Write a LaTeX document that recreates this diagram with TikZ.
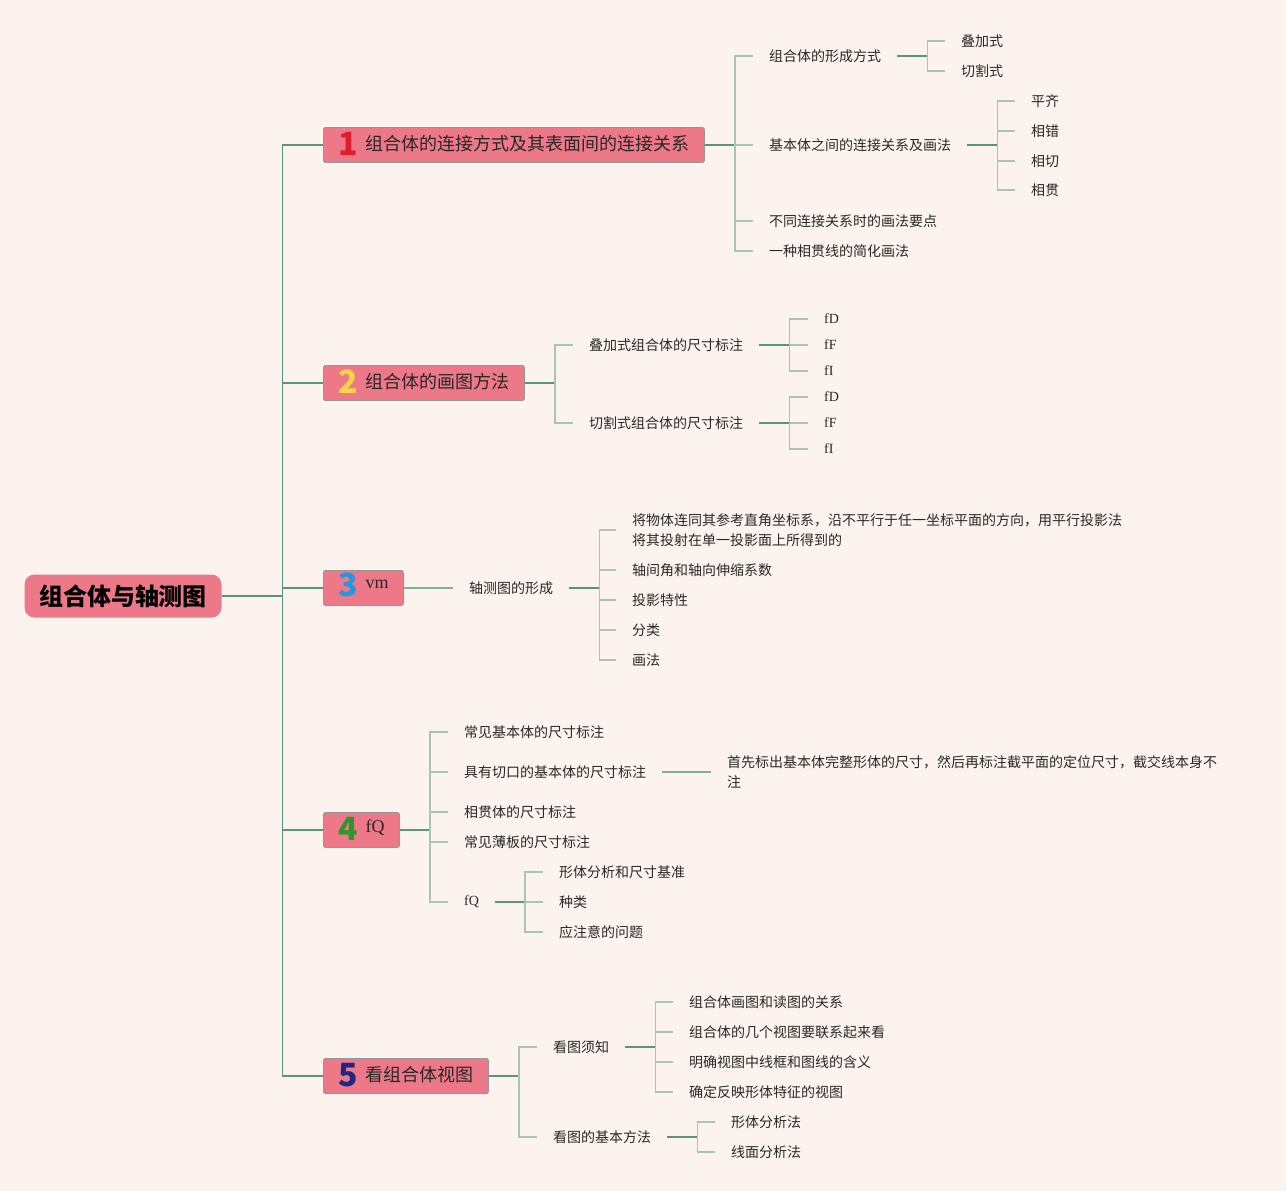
\documentclass[tikz,border=0pt]{standalone}
\usepackage{fontspec}
\newfontfamily\cjk{Noto Sans CJK SC}
\newfontfamily\lat{Liberation Serif}
\definecolor{BgCream}  {RGB}{253,243,238}
\definecolor{BoxPink}  {RGB}{236,120,136}
\definecolor{BoxEdge}  {RGB}{150,150,150}
\definecolor{LineDark} {RGB}{ 92,146,128}
\definecolor{LineMid}  {RGB}{130,172,156}
\definecolor{LineLight}{RGB}{168,196,178}
\definecolor{TextDark} {RGB}{ 40, 40, 40}
\definecolor{NumRed}   {RGB}{222, 30, 45}
\definecolor{NumYellow}{RGB}{250,212, 70}
\definecolor{NumBlue}  {RGB}{ 40,150,220}
\definecolor{NumGreen} {RGB}{ 45,150, 45}
\definecolor{NumNavy}  {RGB}{ 30, 40,130}
\newcommand{\numtag}[2]{\raisebox{-5pt}{\smash{\bfseries\fontsize{32}{32}\selectfont\color{#1}#2}}\hspace{8pt}}
\newcommand{\lattag}[1]{\raisebox{3pt}{\lat #1}}
\tikzset{
  %% 中心主题
  rootbox/.style={rectangle,rounded corners=10pt,fill=BoxPink,
                  minimum width=197pt,minimum height=43pt,inner sep=0pt,
                  font=\cjk\bfseries\fontsize{24}{28}\selectfont,text=black},
  %% 一级分支方框
  topbox/.style={rectangle,rounded corners=1.5pt,
                 draw=BoxEdge,line width=0.8pt,fill=BoxPink,
                 minimum height=35pt,inner xsep=0pt,inner ysep=0pt,anchor=west,
                 font=\cjk\fontsize{18}{22}\selectfont,text=TextDark},
  %% 子主题文字
  leaf/.style={anchor=west,inner xsep=16pt,inner ysep=2pt,align=left,
               font=\cjk\fontsize{14}{20}\selectfont,text=TextDark},
  latleaf/.style={leaf,font=\lat\fontsize{14}{20}\selectfont},
  %% 连线
  trunk/.style={LineDark,line width=1.3pt},
  lnkD/.style={LineDark,line width=1.4pt},
  lnkM/.style={LineMid,line width=1.3pt},
  lnkL/.style={LineLight,line width=1.4pt},
}
\begin{document}
\begin{tikzpicture}[x=1pt,y=-1pt]
    \fill[BgCream] (0,0) rectangle (1286,1191);
    \useasboundingbox (0,0) rectangle (1286,1191);

    %% ── 中心主题与一级分支 ──────────────────────────────
    \node[rootbox] (r) at (123,596) {组合体与轴测图};
    \node[topbox,minimum width=381pt] (n1) at (323,145)
      {\numtag{NumRed}{1}组合体的连接方式及其表面间的连接关系};
    \node[topbox,minimum width=201pt] (n2) at (323,383)
      {\numtag{NumYellow}{2}组合体的画图方法};
    \node[topbox,minimum width=80pt] (n3) at (323,588)
      {\numtag{NumBlue}{3}\lattag{vm}};
    \node[topbox,minimum width=76pt] (n4) at (323,830)
      {\numtag{NumGreen}{4}\lattag{fQ}};
    \node[topbox,minimum width=165pt] (n5) at (323,1076)
      {\numtag{NumNavy}{5}看组合体视图};

    \draw[trunk] (r.east) -- ++(61,0) coordinate (j0);
    \foreach \b in {n1,n2,n3,n4,n5}
      \draw[trunk] (j0) |- (\b.west);

    %% ── 1：连接方式 ────────────────────────────────────
    \node[leaf] (n11) at (753,56)  {组合体的形成方式};
    \node[leaf] (n12) at (753,145) {基本体之间的连接关系及画法};
    \node[leaf] (n13) at (753,221) {不同连接关系时的画法要点};
    \node[leaf] (n14) at (753,251) {一种相贯线的简化画法};
    \node[leaf] (n111) at (945,41) {叠加式};
    \node[leaf] (n112) at (945,71) {切割式};
    \node[leaf] (n121) at (1015,101) {平齐};
    \node[leaf] (n122) at (1015,131) {相错};
    \node[leaf] (n123) at (1015,161) {相切};
    \node[leaf] (n124) at (1015,190) {相贯};

    \draw[lnkD] (n1.east) -- ++(30,0) coordinate (j1);
    \foreach \c in {n11,n12,n13,n14} \draw[lnkL] (j1) |- (\c.west);
    \draw[lnkD] (n11.east) -- ++(30,0) coordinate (j11);
    \foreach \c in {n111,n112} \draw[lnkL] (j11) |- (\c.west);
    \draw[lnkD] (n12.east) -- ++(30,0) coordinate (j12);
    \foreach \c in {n121,n122,n123,n124} \draw[lnkL] (j12) |- (\c.west);

    %% ── 2：画图方法 ────────────────────────────────────
    \node[leaf] (n21) at (573,345) {叠加式组合体的尺寸标注};
    \node[leaf] (n22) at (573,423) {切割式组合体的尺寸标注};
    \node[latleaf] (n211) at (808,319) {fD};
    \node[latleaf] (n212) at (808,345) {fF};
    \node[latleaf] (n213) at (808,371) {fI};
    \node[latleaf] (n221) at (808,397) {fD};
    \node[latleaf] (n222) at (808,423) {fF};
    \node[latleaf] (n223) at (808,449) {fI};

    \draw[lnkD] (n2.east) -- ++(30,0) coordinate (j2);
    \foreach \c in {n21,n22} \draw[lnkL] (j2) |- (\c.west);
    \draw[lnkD] (n21.east) -- ++(30,0) coordinate (j21);
    \foreach \c in {n211,n212,n213} \draw[lnkL] (j21) |- (\c.west);
    \draw[lnkD] (n22.east) -- ++(30,0) coordinate (j22);
    \foreach \c in {n221,n222,n223} \draw[lnkL] (j22) |- (\c.west);

    %% ── 3：轴测图 ──────────────────────────────────────
    \node[leaf] (n31) at (453,588) {轴测图的形成};
    \node[leaf] (n311) at (616,530)
      {将物体连同其参考直角坐标系，沿不平行于任一坐标平面的方向，用平行投影法\\
       将其投射在单一投影面上所得到的};
    \node[leaf] (n312) at (616,570) {轴间角和轴向伸缩系数};
    \node[leaf] (n313) at (616,600) {投影特性};
    \node[leaf] (n314) at (616,630) {分类};
    \node[leaf] (n315) at (616,660) {画法};

    \draw[lnkM] (n3.east) -- (n31.west);
    \draw[lnkD] (n31.east) -- ++(30,0) coordinate (j31);
    \foreach \c in {n311,n312,n313,n314,n315} \draw[lnkL] (j31) |- (\c.west);

    %% ── 4：尺寸标注 ────────────────────────────────────
    \node[leaf] (n41) at (448,732) {常见基本体的尺寸标注};
    \node[leaf] (n42) at (448,772) {具有切口的基本体的尺寸标注};
    \node[leaf] (n43) at (448,812) {相贯体的尺寸标注};
    \node[leaf] (n44) at (448,842) {常见薄板的尺寸标注};
    \node[latleaf] (n45) at (448,902) {fQ};
    \node[leaf] (n421) at (711,772)
      {首先标出基本体完整形体的尺寸，然后再标注截平面的定位尺寸，截交线本身不\\注};
    \node[leaf] (n451) at (543,872) {形体分析和尺寸基准};
    \node[leaf] (n452) at (543,902) {种类};
    \node[leaf] (n453) at (543,932) {应注意的问题};

    \draw[lnkD] (n4.east) -- ++(30,0) coordinate (j4);
    \foreach \c in {n41,n42,n43,n44,n45} \draw[lnkL] (j4) |- (\c.west);
    \draw[lnkM] (n42.east) -- (n421.west);
    \draw[lnkD] (n45.east) -- ++(30,0) coordinate (j45);
    \foreach \c in {n451,n452,n453} \draw[lnkL] (j45) |- (\c.west);

    %% ── 5：看组合体视图 ────────────────────────────────
    \node[leaf] (n51) at (537,1047) {看图须知};
    \node[leaf] (n52) at (537,1137) {看图的基本方法};
    \node[leaf] (n511) at (673,1002) {组合体画图和读图的关系};
    \node[leaf] (n512) at (673,1032) {组合体的几个视图要联系起来看};
    \node[leaf] (n513) at (673,1062) {明确视图中线框和图线的含义};
    \node[leaf] (n514) at (673,1092) {确定反映形体特征的视图};
    \node[leaf] (n521) at (715,1122) {形体分析法};
    \node[leaf] (n522) at (715,1152) {线面分析法};

    \draw[lnkD] (n5.east) -- ++(30,0) coordinate (j5);
    \foreach \c in {n51,n52} \draw[lnkL] (j5) |- (\c.west);
    \draw[lnkD] (n51.east) -- ++(30,0) coordinate (j51);
    \foreach \c in {n511,n512,n513,n514} \draw[lnkL] (j51) |- (\c.west);
    \draw[lnkD] (n52.east) -- ++(30,0) coordinate (j52);
    \foreach \c in {n521,n522} \draw[lnkL] (j52) |- (\c.west);
\end{tikzpicture}
\end{document}
